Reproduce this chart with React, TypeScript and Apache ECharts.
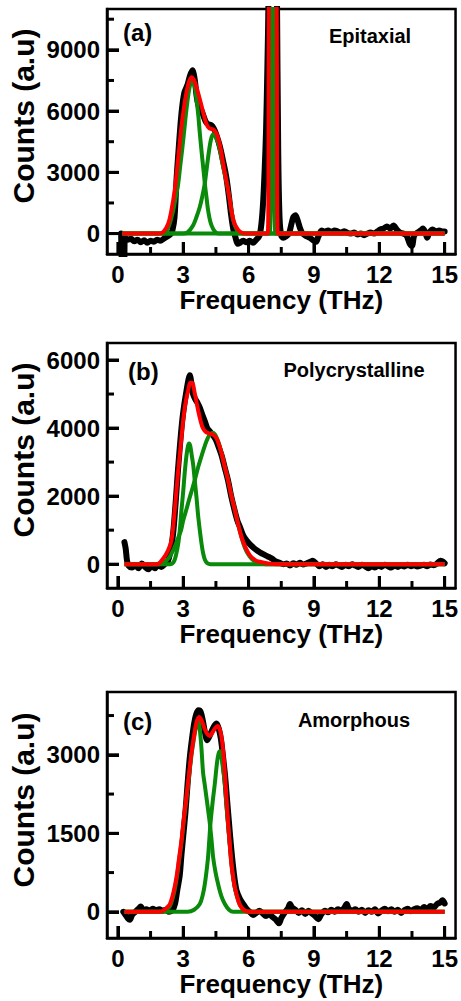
import React, { useEffect, useRef } from "react";
import * as echarts from "echarts";

// ---------- tick values ----------
const X_TICKS = [0, 3, 6, 9, 12, 15];
const X_MINOR_TICKS = [1.5, 4.5, 7.5, 10.5, 13.5];
const A_Y_TICKS = [0, 3000, 6000, 9000];
const A_Y_MINOR = [1500, 4500, 7500, 10500];
const B_Y_TICKS = [0, 2000, 4000, 6000];
const B_Y_MINOR = [1000, 3000, 5000];
const C_Y_TICKS = [0, 1500, 3000];
const C_Y_MINOR = [750, 2250, 3750];

const PANEL_LETTERS = ["(a)", "(b)", "(c)"];
const PANEL_NAMES = ["Epitaxial", "Polycrystalline", "Amorphous"];
const X_TITLE = "Frequency (THz)";
const Y_TITLE = "Counts (a.u)";

// ---------- panel (a) Epitaxial ----------
const A_BLACK = [
  [0.15, 0], [0.2, -1500], [0.28, -1500], [0.33, -200], [0.45, -300], [0.6, -250], [0.75, -380], [0.9, -300],
  [1.05, -420], [1.2, -330], [1.35, -450], [1.5, -350], [1.65, -400], [1.8, -300], [1.95, -350], [2.1, -250],
  [2.25, -150], [2.4, -50], [2.5, 150], [2.6, 800], [2.7, 2800], [2.8, 4300], [2.92, 5900], [3.05, 6900],
  [3.2, 7300], [3.3, 7700], [3.42, 8000], [3.52, 7600], [3.62, 6700], [3.72, 6200], [3.85, 6000], [3.95, 5700],
  [4.05, 5450], [4.15, 5350], [4.3, 5300], [4.4, 5150], [4.5, 4900], [4.62, 4500], [4.72, 4100], [4.82, 3600],
  [4.92, 3100], [5.0, 2600], [5.1, 1800], [5.2, 900], [5.3, 200], [5.4, -200], [5.5, -500], [5.6, -450],
  [5.75, -350], [5.9, -420], [6.05, -350], [6.2, -450], [6.35, -300], [6.5, -100], [6.6, 600], [6.67, 1600],
  [6.74, 3200], [6.8, 5000], [6.86, 8000], [6.92, 12000], [7.1, 40000], [7.3, 12000], [7.36, 4000], [7.42, 800],
  [7.5, -100], [7.6, -200], [7.7, -150], [7.85, 0], [7.95, 400], [8.05, 800], [8.15, 900], [8.25, 650],
  [8.35, 300], [8.45, 50], [8.6, -100], [8.8, -200], [9.0, -350], [9.1, -400], [9.2, -150], [9.35, 150],
  [9.5, 100], [9.65, 150], [9.8, 80], [9.95, 150], [10.1, 100], [10.25, 50], [10.4, 120], [10.55, 30],
  [10.7, 0], [10.85, 50], [11.0, -50], [11.15, 0], [11.3, -80], [11.45, 0], [11.6, 50], [11.75, 0],
  [11.9, 100], [12.05, 200], [12.2, 250], [12.35, 350], [12.5, 250], [12.65, 400], [12.8, 200], [12.95, 50],
  [13.1, 0], [13.25, -100], [13.4, -500], [13.5, -600], [13.6, -100], [13.75, 50], [13.9, 150], [14.0, 250],
  [14.1, 100], [14.2, -200], [14.3, 50], [14.45, 200], [14.6, 100], [14.75, 150], [14.9, 100], [15.0, 100],
];
const A_RED = [
  [0.2, 0], [1.9, 0], [2.1, 100], [2.31, 480], [2.45, 1100], [2.61, 2130], [2.77, 3700], [2.92, 5260],
  [3.05, 6300], [3.15, 6930], [3.27, 7450], [3.38, 7660], [3.5, 7500], [3.61, 7160], [3.73, 6700], [3.84, 6250],
  [3.95, 5800], [4.07, 5350], [4.2, 5150], [4.37, 5100], [4.5, 4950], [4.6, 4690], [4.72, 4150], [4.83, 3450],
  [4.95, 2750], [5.06, 2130], [5.14, 1630], [5.21, 1140], [5.32, 600], [5.44, 310], [5.6, 100], [5.83, 0],
  [6.88, 0], [6.93, 11000], [7.1, 40000], [7.29, 11000], [7.34, 0], [15.0, 0],
];
const A_GREEN_1 = [
  [0.2, 0], [2.0, 0], [2.16, 30], [2.35, 400], [2.54, 1140], [2.66, 1800], [2.77, 2460], [2.86, 3300],
  [2.95, 4100], [3.05, 5100], [3.15, 6100], [3.28, 7100], [3.41, 7550], [3.52, 7250], [3.61, 6580], [3.69, 5800],
  [3.76, 4930], [3.82, 4250], [3.88, 3610], [3.94, 3000], [3.99, 2460], [4.07, 1750], [4.14, 1140], [4.25, 550],
  [4.37, 230], [4.5, 50], [4.65, 0], [15.0, 0],
];
const A_GREEN_2 = [
  [0.2, 0], [3.0, 0], [3.2, 60], [3.45, 400], [3.62, 850], [3.76, 1300], [3.88, 1850], [3.99, 2460],
  [4.09, 3300], [4.19, 4100], [4.28, 4650], [4.37, 4850], [4.48, 4750], [4.6, 4450], [4.72, 3900], [4.83, 3280],
  [4.95, 2700], [5.06, 2130], [5.14, 1630], [5.21, 1140], [5.3, 650], [5.37, 400], [5.48, 150], [5.6, 40],
  [5.75, 0], [15.0, 0],
];
const A_GREEN_3 = [
  [0.2, 0], [6.97, 0], [7.04, 11000], [7.1, 40000], [7.16, 11000], [7.23, 0], [15.0, 0],
];

// ---------- panel (b) Polycrystalline ----------
const B_BLACK = [
  [0.3, 650], [0.36, 450], [0.42, 100], [0.5, -50], [0.65, -100], [0.8, -30], [0.95, -120], [1.1, 20],
  [1.25, -80], [1.4, -150], [1.55, -60], [1.7, -120], [1.85, -20], [2.0, -80], [2.15, 0], [2.3, 100],
  [2.45, 500], [2.55, 1000], [2.65, 1800], [2.75, 2700], [2.85, 3500], [2.95, 4200], [3.05, 4700], [3.15, 5100],
  [3.25, 5450], [3.3, 5550], [3.38, 5300], [3.45, 5000], [3.55, 4850], [3.65, 4750], [3.76, 4600], [3.87, 4400],
  [3.99, 4200], [4.1, 4000], [4.22, 3900], [4.35, 3800], [4.5, 3650], [4.62, 3450], [4.76, 3200], [4.9, 2850],
  [5.06, 2450], [5.2, 2000], [5.37, 1550], [5.5, 1250], [5.6, 1100], [5.75, 850], [5.9, 700], [6.06, 580],
  [6.2, 500], [6.35, 420], [6.51, 350], [6.65, 300], [6.8, 250], [6.97, 200], [7.1, 150], [7.25, 80],
  [7.43, 40], [7.6, 0], [7.75, 20], [7.9, -40], [8.05, 30], [8.2, -20], [8.35, 40], [8.5, -10],
  [8.65, 20], [8.8, 60], [8.95, 100], [9.1, 20], [9.25, -60], [9.4, 0], [9.55, -80], [9.7, -20],
  [9.85, -60], [10.0, 0], [10.15, -40], [10.3, -80], [10.45, -20], [10.6, -60], [10.75, 0], [10.9, -40],
  [11.05, -80], [11.2, -20], [11.35, -60], [11.5, -120], [11.65, -60], [11.8, -100], [11.95, -40], [12.1, -80],
  [12.25, -20], [12.4, -60], [12.55, -100], [12.7, -40], [12.85, -80], [13.0, -30], [13.15, -70], [13.3, -20],
  [13.45, -60], [13.6, -30], [13.75, -70], [13.9, -40], [14.05, -20], [14.2, -60], [14.35, -10], [14.5, -30],
  [14.65, 20], [14.8, 100], [14.9, 80], [15.0, 30],
];
const B_RED = [
  [0.3, 0], [1.8, 0], [2.08, 170], [2.3, 400], [2.46, 700], [2.61, 1590], [2.77, 2760], [2.9, 3600],
  [3.0, 4240], [3.12, 4800], [3.23, 5120], [3.32, 5330], [3.4, 5330], [3.53, 5020], [3.68, 4530], [3.8, 4200],
  [3.91, 3990], [4.05, 3880], [4.22, 3840], [4.38, 3800], [4.53, 3700], [4.65, 3500], [4.76, 3260], [4.9, 2880],
  [5.06, 2470], [5.2, 2040], [5.37, 1590], [5.52, 1170], [5.67, 800], [5.85, 500], [6.06, 260], [6.3, 120],
  [6.51, 70], [6.9, 20], [7.3, 0], [15.0, 0],
];
const B_GREEN_1 = [
  [0.3, 0], [2.4, 0], [2.55, 50], [2.66, 250], [2.77, 600], [2.85, 1050], [2.92, 1600], [3.0, 2150],
  [3.07, 2700], [3.15, 3200], [3.22, 3480], [3.27, 3550], [3.32, 3480], [3.39, 3200], [3.46, 2900], [3.53, 2450],
  [3.61, 1950], [3.68, 1450], [3.76, 1000], [3.84, 600], [3.91, 330], [4.0, 120], [4.1, 30], [4.25, 0],
  [15.0, 0],
];
const B_GREEN_2 = [
  [0.3, 0], [1.9, 0], [2.1, 40], [2.3, 150], [2.46, 310], [2.6, 500], [2.75, 750], [2.9, 1000],
  [3.0, 1290], [3.15, 1620], [3.27, 1900], [3.4, 2180], [3.53, 2470], [3.68, 2840], [3.84, 3180], [4.0, 3500],
  [4.12, 3700], [4.22, 3800], [4.35, 3860], [4.45, 3820], [4.53, 3720], [4.65, 3520], [4.76, 3260], [4.9, 2880],
  [5.06, 2470], [5.2, 2040], [5.37, 1590], [5.52, 1170], [5.67, 800], [5.82, 500], [5.98, 290], [6.15, 150],
  [6.36, 60], [6.6, 15], [7.0, 0], [15.0, 0],
];

// ---------- panel (c) Amorphous ----------
const C_BLACK = [
  [0.25, 0], [0.35, -60], [0.45, -120], [0.55, -150], [0.65, -60], [0.8, 0], [0.95, 60], [1.05, 100],
  [1.15, 30], [1.3, 50], [1.45, 20], [1.6, 60], [1.75, 30], [1.9, 50], [2.05, 20], [2.2, 40],
  [2.35, 0], [2.5, 30], [2.62, 150], [2.72, 400], [2.84, 700], [2.92, 1100], [3.0, 1450], [3.1, 1900],
  [3.2, 2450], [3.3, 2950], [3.4, 3300], [3.5, 3600], [3.6, 3780], [3.7, 3850], [3.8, 3820], [3.9, 3650],
  [4.0, 3420], [4.1, 3280], [4.2, 3350], [4.3, 3450], [4.42, 3550], [4.53, 3600], [4.63, 3500], [4.73, 3300],
  [4.83, 2950], [4.92, 2600], [5.0, 2200], [5.1, 1700], [5.21, 1180], [5.32, 750], [5.44, 420], [5.6, 250],
  [5.75, 150], [5.9, 60], [6.05, 0], [6.2, -60], [6.35, -20], [6.5, 20], [6.65, -30], [6.8, -80],
  [6.95, -40], [7.1, -100], [7.25, -150], [7.4, -220], [7.5, -120], [7.65, -20], [7.8, 60], [7.9, 150],
  [8.0, 80], [8.15, 40], [8.3, -20], [8.45, 30], [8.6, -40], [8.75, 20], [8.9, -30], [9.05, -80],
  [9.2, -140], [9.35, -40], [9.5, 20], [9.65, -10], [9.8, 40], [9.95, 0], [10.1, 50], [10.25, 20],
  [10.4, 80], [10.5, 150], [10.6, 60], [10.75, 20], [10.9, 50], [11.05, 0], [11.2, 40], [11.35, -20],
  [11.5, 30], [11.65, 0], [11.8, 50], [11.95, -30], [12.1, 20], [12.25, 60], [12.4, 10], [12.55, 50],
  [12.7, 0], [12.85, 40], [13.0, -20], [13.15, 30], [13.3, 60], [13.45, 10], [13.6, 50], [13.75, 70],
  [13.9, 30], [14.05, 90], [14.2, 60], [14.35, 110], [14.5, 80], [14.65, 150], [14.8, 180], [14.9, 220],
  [15.0, 160],
];
const C_RED = [
  [0.3, 0], [1.9, 0], [2.1, 30], [2.25, 80], [2.39, 150], [2.55, 370], [2.69, 660], [2.8, 1000],
  [2.92, 1370], [3.03, 1800], [3.15, 2210], [3.27, 2650], [3.38, 3040], [3.5, 3370], [3.61, 3620], [3.73, 3720],
  [3.85, 3650], [3.99, 3490], [4.1, 3400], [4.22, 3360], [4.33, 3420], [4.45, 3500], [4.58, 3550], [4.68, 3480],
  [4.76, 3330], [4.84, 3050], [4.91, 2660], [4.98, 2200], [5.06, 1690], [5.14, 1270], [5.21, 920], [5.32, 580],
  [5.44, 340], [5.6, 130], [5.83, 20], [6.1, 0], [15.0, 0],
];
const C_GREEN_1 = [
  [0.3, 0], [2.0, 0], [2.2, 40], [2.39, 110], [2.55, 320], [2.69, 620], [2.8, 950], [2.92, 1330],
  [3.03, 1760], [3.15, 2170], [3.27, 2600], [3.38, 3000], [3.5, 3330], [3.6, 3560], [3.68, 3650], [3.76, 3480],
  [3.84, 3100], [3.91, 2660], [3.99, 2420], [4.07, 2170], [4.14, 1950], [4.22, 1690], [4.3, 1370], [4.37, 1050],
  [4.48, 760], [4.6, 530], [4.75, 300], [4.91, 150], [5.1, 40], [5.3, 0], [15.0, 0],
];
const C_GREEN_2 = [
  [0.3, 0], [3.2, 0], [3.5, 40], [3.76, 150], [3.9, 330], [3.99, 530], [4.07, 780], [4.14, 1050],
  [4.2, 1400], [4.25, 1690], [4.35, 2100], [4.45, 2450], [4.55, 2850], [4.62, 3020], [4.68, 3070], [4.74, 3000],
  [4.82, 2750], [4.91, 2450], [4.98, 2050], [5.06, 1650], [5.14, 1250], [5.21, 920], [5.32, 570], [5.44, 330],
  [5.6, 130], [5.75, 50], [5.95, 0], [15.0, 0],
];

const FONT = "'Liberation Sans', Arial, Helvetica, sans-serif";
const BLACK = "#000000";
const RED = "#ff0000";
const GREEN = "#0a8a0a";

const X_MIN = -0.5;
const X_MAX = 15.5;
const GRID_LEFT = 107;
const GRID_WIDTH = 349;
const MAJOR_LEN = 12; // px
const MINOR_LEN = 7;  // px
const TICK_W = 3;     // px

const PANELS = [
  { top: 9, height: 245, ymin: -1000, ymax: 11000, yTicks: A_Y_TICKS, yMinor: A_Y_MINOR,
    black: A_BLACK, greens: [A_GREEN_1, A_GREEN_2, A_GREEN_3], red: A_RED,
    letterPos: [123, 32], namePos: [370, 36], yTitleY: 116 },
  { top: 343, height: 245, ymin: -700, ymax: 6500, yTicks: B_Y_TICKS, yMinor: B_Y_MINOR,
    black: B_BLACK, greens: [B_GREEN_1, B_GREEN_2], red: B_RED,
    letterPos: [128, 371], namePos: [354, 370], yTitleY: 450 },
  { top: 692, height: 246, ymin: -500, ymax: 4200, yTicks: C_Y_TICKS, yMinor: C_Y_MINOR,
    black: C_BLACK, greens: [C_GREEN_1, C_GREEN_2], red: C_RED,
    letterPos: [123, 721], namePos: [354, 720], yTitleY: 800 },
];

function textGraphics() {
  const g: any[] = [];
  PANELS.forEach((p, i) => {
    g.push({
      type: "text", id: `letter${i}`, x: p.letterPos[0], y: p.letterPos[1],
      style: { text: PANEL_LETTERS[i], fill: BLACK, font: `bold 24px ${FONT}`,
        textAlign: "left", textVerticalAlign: "middle", align: "left", verticalAlign: "middle" },
    });
    g.push({
      type: "text", id: `name${i}`, x: p.namePos[0], y: p.namePos[1],
      style: { text: PANEL_NAMES[i], fill: BLACK, font: `bold 20px ${FONT}`,
        textAlign: "center", textVerticalAlign: "middle", align: "center", verticalAlign: "middle" },
    });
    g.push({
      type: "text", id: `ytitle${i}`, x: 23, y: p.yTitleY, rotation: Math.PI / 2,
      style: { text: Y_TITLE, fill: BLACK, font: `bold 30px ${FONT}`,
        textAlign: "center", textVerticalAlign: "middle", align: "center", verticalAlign: "middle" },
    });
  });
  return g;
}

function buildOption() {
  const grid: any[] = [];
  const xAxis: any[] = [];
  const yAxis: any[] = [];
  const series: any[] = [];
  const labelStyle = { fontSize: 24, fontWeight: "bold", color: BLACK, fontFamily: FONT };

  PANELS.forEach((p, i) => {
    grid.push({
      left: GRID_LEFT, top: p.top, width: GRID_WIDTH, height: p.height,
      show: true, borderColor: BLACK, borderWidth: 2.5, backgroundColor: "transparent",
    });
    xAxis.push({
      type: "value", gridIndex: i, min: X_MIN, max: X_MAX, position: "bottom",
      axisLine: { show: true, onZero: false, lineStyle: { color: BLACK, width: 2.5 } },
      axisTick: { show: true, inside: true, length: MAJOR_LEN, customValues: X_TICKS, lineStyle: { color: BLACK, width: TICK_W } },
      axisLabel: { show: true, customValues: X_TICKS, margin: 8, formatter: (v: number) => String(v), ...labelStyle },
      splitLine: { show: false },
      name: X_TITLE, nameLocation: "middle", nameGap: 33,
      nameTextStyle: { fontSize: 26, fontWeight: "bold", color: BLACK, fontFamily: FONT },
    });
    yAxis.push({
      type: "value", gridIndex: i, min: p.ymin, max: p.ymax, position: "left",
      axisLine: { show: true, onZero: false, lineStyle: { color: BLACK, width: 2.5 } },
      axisTick: { show: true, inside: true, length: MAJOR_LEN, customValues: p.yTicks, lineStyle: { color: BLACK, width: TICK_W } },
      axisLabel: { show: true, customValues: p.yTicks, margin: 7, formatter: (v: number) => String(v), ...labelStyle },
      splitLine: { show: false },
    });

    series.push({
      type: "line", xAxisIndex: i, yAxisIndex: i, data: p.black, showSymbol: false, symbol: "none",
      smooth: 0.3, clip: true, z: 2, lineStyle: { color: BLACK, width: 6, join: "round", cap: "round" },
    });
    p.greens.forEach((g) => {
      series.push({
        type: "line", xAxisIndex: i, yAxisIndex: i, data: g, showSymbol: false, symbol: "none",
        smooth: 0.35, clip: true, z: 3, lineStyle: { color: GREEN, width: 4, join: "round" },
      });
    });
    series.push({
      type: "line", xAxisIndex: i, yAxisIndex: i, data: p.red, showSymbol: false, symbol: "none",
      smooth: 0.35, clip: true, z: 4, lineStyle: { color: RED, width: 4, join: "round" },
    });
  });

  return { animation: false, backgroundColor: "#ffffff", grid, xAxis, yAxis, series, graphic: textGraphics() };
}

// inward tick marks placed with the chart's own coordinate conversion
function tickGraphics(chart: any) {
  const g: any[] = [];
  PANELS.forEach((p, i) => {
    const finder = { xAxisIndex: i, yAxisIndex: i };
    const addX = (v: number, len: number, k: string) => {
      const pt = chart.convertToPixel(finder, [v, p.ymin]);
      if (!pt) return;
      g.push({ type: "rect", id: `xt${i}_${k}`, z: 100, silent: true,
        shape: { x: pt[0] - TICK_W / 2, y: pt[1] - len, width: TICK_W, height: len }, style: { fill: BLACK } });
    };
    const addY = (v: number, len: number, k: string) => {
      const pt = chart.convertToPixel(finder, [X_MIN, v]);
      if (!pt) return;
      g.push({ type: "rect", id: `yt${i}_${k}`, z: 100, silent: true,
        shape: { x: pt[0], y: pt[1] - TICK_W / 2, width: len, height: TICK_W }, style: { fill: BLACK } });
    };
    X_TICKS.forEach((v) => addX(v, MAJOR_LEN, `M${v}`));
    X_MINOR_TICKS.forEach((v) => addX(v, MINOR_LEN, `m${v}`));
    p.yTicks.forEach((v) => addY(v, MAJOR_LEN, `M${v}`));
    p.yMinor.forEach((v) => addY(v, MINOR_LEN, `m${v}`));
  });
  return g;
}

export default function App() {
  const ref = useRef<HTMLDivElement>(null);
  useEffect(() => {
    document.body.style.margin = "0";
    const chart = echarts.init(ref.current as HTMLDivElement, null, { renderer: "svg" });
    chart.setOption(buildOption() as any);
    chart.setOption({ graphic: [...textGraphics(), ...tickGraphics(chart)] } as any);
    return () => chart.dispose();
  }, []);
  return <div ref={ref} style={{ width: 461, height: 1001 }} />;
}
